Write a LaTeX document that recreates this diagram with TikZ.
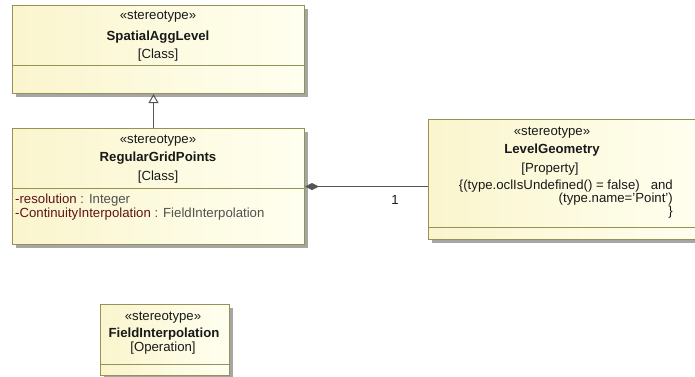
\documentclass[tikz,border=0pt]{standalone}
\usepackage{fontspec}
\setmainfont{Liberation Sans}
\usetikzlibrary{arrows.meta,shadows,calc}
\definecolor{boxborder}{RGB}{150,145,85}
\definecolor{boxleft}{RGB}{250,245,205}
\definecolor{boxright}{RGB}{255,255,240}
\definecolor{attrname}{RGB}{95,20,20}
\definecolor{attrtype}{RGB}{80,80,80}
\definecolor{linkcol}{RGB}{85,85,85}
\tikzset{
  umlbox/.style={draw=boxborder, line width=1pt, left color=boxleft, right color=boxright,
    drop shadow={shadow xshift=3pt, shadow yshift=-3pt, fill=black!35, opacity=1},
    inner sep=0pt, anchor=north west},
  divider/.style={draw=boxborder, line width=1pt},
  txt/.style={font=\fontsize{13.2}{15}\selectfont, inner sep=0pt, text=black!90},
  bold/.style={txt, font=\fontsize{13.2}{15}\selectfont\bfseries},
  link/.style={draw=linkcol, line width=1pt}
}
\begin{document}
\begin{tikzpicture}[x=1pt,y=-1pt]
\useasboundingbox (0,0) rectangle (695,376);
% SpatialAggLevel
\node[umlbox, minimum width=292pt, minimum height=88pt] (sal) at (12,5) {};
\draw[divider] (12,65) -- (304,65);
\node[txt] (sals) at (158,17) {«stereotype»};
\node[bold] (saln) at (158,37) {SpatialAggLevel};
\node[txt] (salk) at (158,55) {[Class]};
% RegularGridPoints
\node[umlbox, minimum width=292pt, minimum height=116pt] (rgp) at (12,128) {};
\draw[divider] (12,188) -- (304,188);
\node[txt] (rgps) at (158,141) {«stereotype»};
\node[bold] (rgpn) at (158,158) {RegularGridPoints};
\node[txt] (rgpk) at (158,177) {[Class]};
\node[txt, anchor=west] (rgpa1) at (15,200) {\textcolor{attrname}{-resolution} \textcolor{attrtype}{: Integer}};
\node[txt, anchor=west] (rgpa2) at (15,214) {\textcolor{attrname}{-ContinuityInterpolation} \textcolor{attrtype}{: FieldInterpolation}};
% LevelGeometry
\node[umlbox, minimum width=276pt, minimum height=120pt] (lg) at (428,119) {};
\draw[divider] (428,227) -- (704,227);
\node[txt] (lgs) at (552,133) {«stereotype»};
\node[bold] (lgn) at (552,150) {LevelGeometry};
\node[txt] (lgk) at (550,169) {[Property]};
\node[txt, anchor=north east, align=right, font=\fontsize{13.2}{13}\selectfont] (lgc) at (673,180)
  {\{(type.oclIsUndefined() = false)\ \ \ and\\(type.name='Point')\\\}};
% FieldInterpolation
\node[umlbox, minimum width=129pt, minimum height=71pt] (fi) at (100,304) {};
\draw[divider] (100,364) -- (229,364);
\node[txt] (fis) at (163,318) {«stereotype»};
\node[bold] (fin) at (164,334) {FieldInterpolation};
\node[txt] (fik) at (163,348) {[Operation]};
% generalization
\draw[link, -{Triangle[open, length=9pt, width=10pt]}] ($(rgp.north)+(-5,0)$) -- ($(sal.south)+(-5,0)$);
% composition
\draw[link, {Diamond[length=14pt, width=7pt]}-] (rgp.east) -- (rgp.east -| lg.west);
\node[txt] (mult) at (395,200) {1};
\end{tikzpicture}
\end{document}
